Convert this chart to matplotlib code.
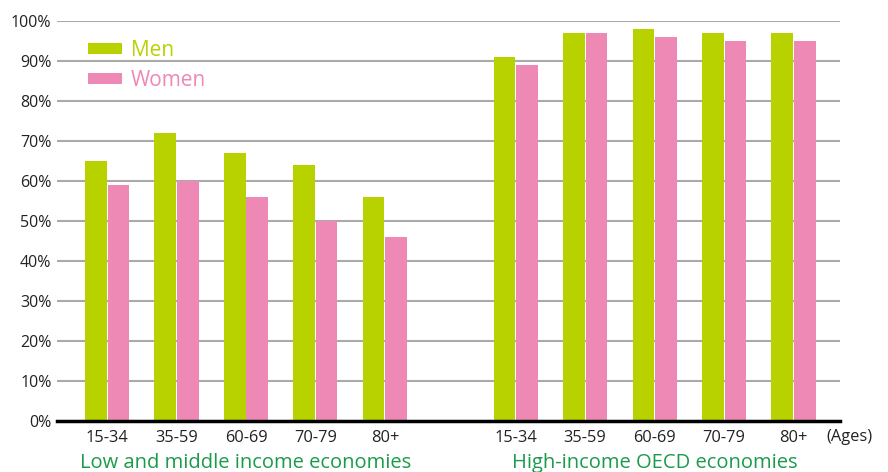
import numpy as np
import matplotlib
matplotlib.use('Agg')
import matplotlib.pyplot as plt

# Datos
edades = ['15-34', '35-59', '60-69', '70-79', '80+']
grupos = ['Low and middle income economies', 'High-income OECD economies']
hombres_bajo = [65, 72, 67, 64, 56]
mujeres_bajo = [59, 60, 56, 50, 46]
hombres_alto = [91, 97, 98, 97, 97]
mujeres_alto = [89, 97, 96, 95, 95]

VERDE = '#b8d200'
ROSA = '#ee88b4'
VERDE_TXT = '#1a9a4a'
GRIS = '#aaaaaa'

plt.rcParams['font.family'] = ['Open Sans', 'DejaVu Sans']

fig = plt.figure(figsize=(8.88, 4.72), dpi=100)
ax = fig.add_axes([0.0642, 0.108, 0.8818, 0.8475])

# Posiciones de las categorías
x_bajo = np.arange(len(edades))
x_alto = np.arange(len(edades)) + 5.88
ancho = 0.31
off = 0.162

ax.bar(x_bajo - off, hombres_bajo, ancho, color=VERDE, label='Men', zorder=3)
ax.bar(x_bajo + off, mujeres_bajo, ancho, color=ROSA, label='Women', zorder=3)
ax.bar(x_alto - off, hombres_alto, ancho, color=VERDE, zorder=3)
ax.bar(x_alto + off, mujeres_alto, ancho, color=ROSA, zorder=3)

# Ejes
ax.set_xlim(-0.72, 10.55)
ax.set_ylim(0, 100)
ax.set_yticks(np.arange(0, 101, 10))
ax.set_yticklabels([f'{v}%' for v in range(0, 101, 10)], fontsize=11.5, color='#222222')
ax.yaxis.grid(True, color=GRIS, lw=1.5, zorder=0)
ax.set_axisbelow(True)
ax.tick_params(axis='y', length=0, pad=4)

xs = np.concatenate([x_bajo, x_alto])
ax.set_xticks(xs)
ax.set_xticklabels(edades + edades, fontsize=11.8, color='#222222')
ax.tick_params(axis='x', length=0, pad=6.5)

for s in ['top', 'right', 'left']:
    ax.spines[s].set_visible(False)
ax.spines['bottom'].set_linewidth(2.5)
ax.spines['bottom'].set_color('black')
ax.spines['bottom'].set_zorder(4)

ax.text(0.982, -0.019, '(Ages)', transform=ax.transAxes, fontsize=11.8,
        color='#222222', ha='left', va='top')

# Etiquetas de grupo
for x, g in zip([x_bajo.mean(), x_alto.mean()], grupos):
    ax.text(x, -0.08, g, transform=ax.get_xaxis_transform(), fontsize=14.5,
            color=VERDE_TXT, ha='center', va='top')

# Leyenda
leg = ax.legend(loc='upper left', bbox_to_anchor=(0.016, 1.0), frameon=False,
                fontsize=15, handlelength=1.6, handleheight=0.4,
                handletextpad=0.45, labelspacing=0.45)
for t, c in zip(leg.get_texts(), [VERDE, ROSA]):
    t.set_color(c)

fig.savefig('out.png', dpi=100)
